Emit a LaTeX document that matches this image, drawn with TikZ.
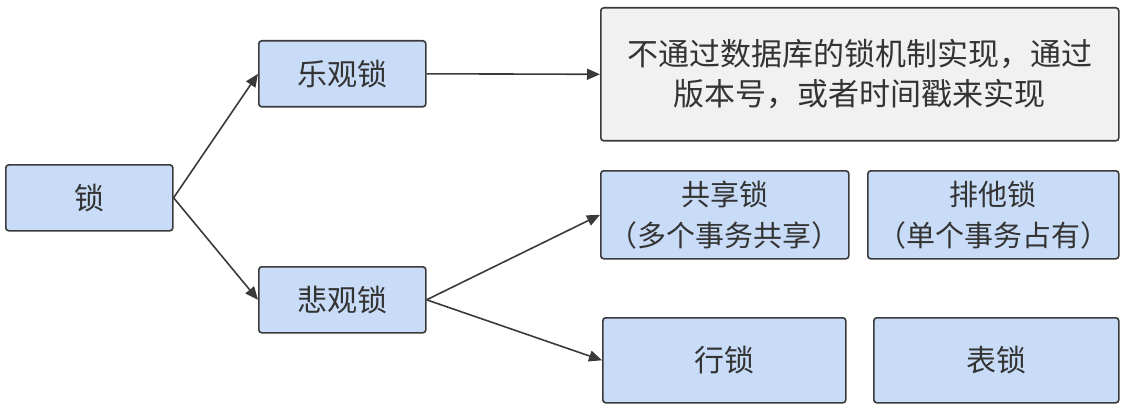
\documentclass[tikz,border=0pt]{standalone}
\usepackage{fontspec}
\setmainfont{Noto Sans CJK SC}
\usetikzlibrary{arrows.meta}
\definecolor{boxblue}{HTML}{C9DCF7}
\definecolor{boxgray}{HTML}{F1F1F1}
\definecolor{edge}{HTML}{3A3A3A}
\definecolor{txt}{HTML}{333333}
\begin{document}
\begin{tikzpicture}[x=1pt,y=-1pt,
  box/.style={draw=edge,line width=1.6pt,rounded corners=3pt,fill=boxblue,text=txt,
    font=\fontsize{30}{40}\selectfont,align=center,inner sep=0pt,anchor=north west},
  graybox/.style={box,fill=boxgray},
  conn/.style={draw=edge,line width=1.6pt,-{Triangle[length=13pt,width=11pt]}}]
\useasboundingbox (0,0) rectangle (1124,409);
\node[box,minimum width=167pt,minimum height=66pt] (lock) at (5,164) {锁};
\node[box,minimum width=167pt,minimum height=66pt] (opt) at (258,40) {乐观锁};
\node[box,minimum width=167pt,minimum height=66pt] (pes) at (258,266) {悲观锁};
\node[graybox,minimum width=518pt,minimum height=133pt,font=\fontsize{31}{40}\selectfont] (desc) at (600,7) {不通过数据库的锁机制实现，通过\\版本号，或者时间戳来实现};
\node[box,minimum width=248pt,minimum height=88pt,font=\fontsize{29}{41}\selectfont] (shared) at (600,170) {共享锁\\（多个事务共享）};
\node[box,minimum width=251pt,minimum height=88pt,font=\fontsize{29}{41}\selectfont] (excl) at (867,170) {排他锁\\（单个事务占有）};
\node[box,minimum width=243pt,minimum height=85pt] (row) at (602,317) {行锁};
\node[box,minimum width=245pt,minimum height=85pt] (table) at (873,317) {表锁};
\draw[conn] (lock.east) -- (opt.west);
\draw[conn] (lock.east) -- (pes.west);
\draw[conn] (opt.east) -- (desc.west);
\draw[conn] (pes.east) -- (shared.west);
\draw[conn] (pes.east) -- (row.west);
\end{tikzpicture}
\end{document}
